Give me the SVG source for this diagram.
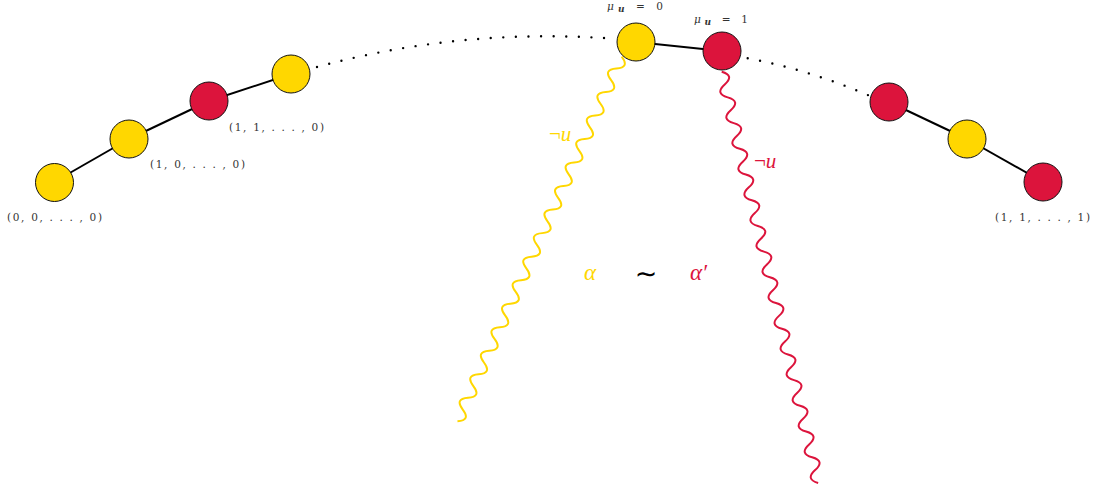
<svg xmlns="http://www.w3.org/2000/svg" width="1099" height="492" viewBox="0 0 1099 492">
<style>
.y{fill:#FFD700;stroke:#111;stroke-width:1}
.r{fill:#DC143C;stroke:#111;stroke-width:1}
.e{stroke:#000;stroke-width:2;fill:none}
.dot{stroke:#000;stroke-width:2.4;fill:none;stroke-linecap:round;stroke-dasharray:0 12.6}
.wy{stroke:#FFD700;stroke-width:2;fill:none}
.wr{stroke:#DC143C;stroke-width:2;fill:none}
.lab{font-family:"DejaVu Serif","Liberation Serif",serif;font-size:10.5px;fill:#333}
.m{font-family:"Liberation Serif","DejaVu Serif",serif;font-style:italic}
</style>
<g id="connectors">
<line class="e" x1="54" y1="182" x2="129" y2="139"/>
<line class="e" x1="129" y1="139" x2="209" y2="101"/>
<line class="e" x1="209" y1="101" x2="291" y2="74"/>
<line class="e" x1="636" y1="42" x2="722" y2="51"/>
<line class="e" x1="889" y1="102" x2="967" y2="139"/>
<line class="e" x1="967" y1="139" x2="1043" y2="182"/>
<path class="dot" d="M317,67 Q460,28 611,38.5"/>
<path class="dot" d="M747.7,58.3 Q810,70 870,96"/>
<path class="wy" transform="translate(621.7,56.7) rotate(114.25)" d="M0,0 q6.45,-12 12.9,0 t12.9,0 t12.9,0 t12.9,0 t12.9,0 t12.9,0 t12.9,0 t12.9,0 t12.9,0 t12.9,0 t12.9,0 t12.9,0 t12.9,0 t12.9,0 t12.9,0 t12.9,0 t12.9,0 t12.9,0 t12.9,0 t12.9,0 t12.9,0 t12.9,0 t12.9,0 t12.9,0 t12.9,0 t12.9,0 t12.9,0 t12.9,0 t12.9,0 t12.9,0 t12.9,0"/>
<path class="wr" transform="translate(721.7,71.7) rotate(76.8)" d="M0,0 q6.6,-12 13.2,0 t13.2,0 t13.2,0 t13.2,0 t13.2,0 t13.2,0 t13.2,0 t13.2,0 t13.2,0 t13.2,0 t13.2,0 t13.2,0 t13.2,0 t13.2,0 t13.2,0 t13.2,0 t13.2,0 t13.2,0 t13.2,0 t13.2,0 t13.2,0 t13.2,0 t13.2,0 t13.2,0 t13.2,0 t13.2,0 t13.2,0 t13.2,0 t13.2,0 t13.2,0 t13.2,0 t13.2,0"/>
</g>
<g id="n1"><circle class="y" cx="54.5" cy="182.5" r="19"/><text class="lab" x="7" y="221" textLength="95" lengthAdjust="spacing">(0, 0, . . . , 0)</text></g>
<g id="n2"><circle class="y" cx="129" cy="139" r="19"/><text class="lab" x="150" y="168" textLength="95" lengthAdjust="spacing">(1, 0, . . . , 0)</text></g>
<g id="n3"><circle class="r" cx="209" cy="101" r="19"/><text class="lab" x="229" y="131" textLength="95" lengthAdjust="spacing">(1, 1, . . . , 0)</text></g>
<g id="n4"><circle class="y" cx="291" cy="74" r="19"/></g>
<g id="n5"><circle class="y" cx="636" cy="42" r="19"/><text class="lab" x="607" y="10" textLength="56" lengthAdjust="spacing"><tspan font-style="italic">μ</tspan><tspan font-style="italic" font-weight="bold" font-size="9" dy="2">u</tspan><tspan dy="-2"> = 0</tspan></text></g>
<g id="n6"><circle class="r" cx="722" cy="51" r="19"/><text class="lab" x="694" y="22.5" textLength="54" lengthAdjust="spacing"><tspan font-style="italic">μ</tspan><tspan font-style="italic" font-weight="bold" font-size="9" dy="2">u</tspan><tspan dy="-2"> = 1</tspan></text></g>
<g id="n7"><circle class="r" cx="889" cy="102" r="19"/></g>
<g id="n8"><circle class="y" cx="967" cy="139" r="19"/></g>
<g id="n9"><circle class="r" cx="1043" cy="182" r="19"/><text class="lab" x="995" y="221" textLength="95" lengthAdjust="spacing">(1, 1, . . . , 1)</text></g>
<g id="labels">
<text x="549" y="141" font-family="Liberation Serif, DejaVu Serif, serif" font-size="21" fill="#FFD700">¬<tspan font-style="italic">u</tspan></text>
<text x="754" y="168" font-family="Liberation Serif, DejaVu Serif, serif" font-size="21" fill="#DC143C">¬<tspan font-style="italic">u</tspan></text>
<text class="m" x="584" y="280" font-size="23" fill="#FFD700">α</text>
<text x="646" y="283" font-family="DejaVu Sans, sans-serif" font-size="27" fill="#000" text-anchor="middle">∼</text>
<text class="m" x="690" y="280" font-size="23" fill="#DC143C">α′</text>
</g>
</svg>
